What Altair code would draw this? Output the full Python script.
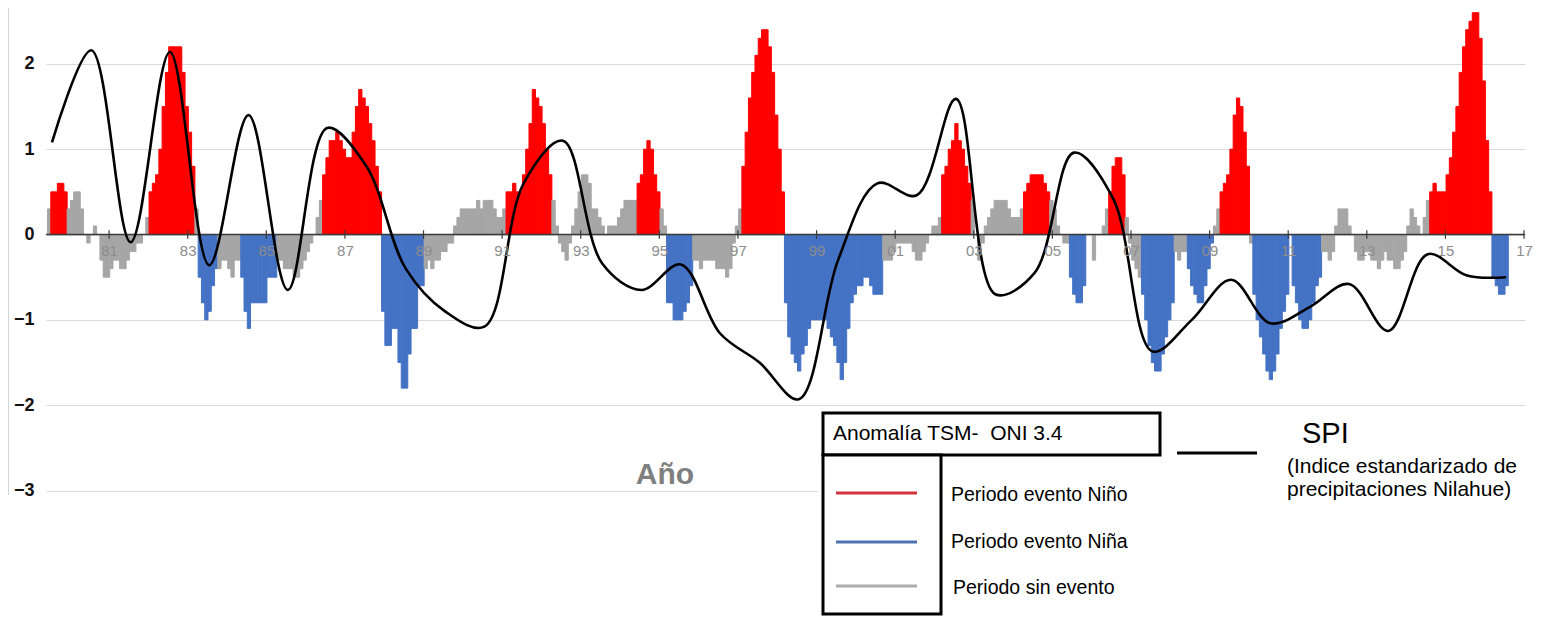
import altair as alt
import pandas as pd

# ---------------- data ----------------
# ONI 3.4 anomaly, one bar per running month (first bar = ASO 1979),
# grouped in consecutive segments of the same event type.
# N = Niño, A = Niña, S = sin evento
seg_kind = ["S", "N", "S", "N", "S", "A", "S", "A", "S", "N", "A", "S", "N", "S",
            "N", "S", "A", "S", "N", "A", "S", "N", "S", "N", "S", "A", "S", "N",
            "S", "A", "S", "A", "S", "N", "S", "A", "S", "A", "S", "N", "A"]
seg_vals = [
    [0.3],
    [0.5, 0.5, 0.6, 0.6, 0.5],
    [0.3, 0.4, 0.5, 0.5, 0.3, 0.0, -0.1, 0.0, 0.1, 0.0, -0.3, -0.5, -0.5, -0.4, -0.3,
     -0.3, -0.4, -0.4, -0.3, -0.2, -0.2, -0.1, -0.1, 0.0, 0.2],
    [0.5, 0.6, 0.7, 1.0, 1.5, 1.9, 2.2, 2.2, 2.2, 2.2, 1.9, 1.5, 1.2, 0.8],
    [0.3],
    [-0.5, -0.8, -1.0, -0.9, -0.6, -0.4],
    [-0.4, -0.3, -0.3, -0.4, -0.5, -0.3, -0.3],
    [-0.5, -0.9, -1.1, -0.8, -0.8, -0.8, -0.8, -0.8, -0.5, -0.5, -0.5],
    [-0.3, -0.3, -0.4, -0.4, -0.4, -0.5, -0.5, -0.4, -0.3, -0.2, -0.1, 0.0, 0.2, 0.4],
    [0.7, 0.9, 1.1, 1.1, 1.2, 1.1, 1.0, 0.9, 0.9, 1.2, 1.5, 1.7, 1.6, 1.5, 1.3, 1.1, 0.8, 0.5],
    [-0.9, -1.3, -1.3, -1.1, -1.1, -1.5, -1.8, -1.8, -1.4, -1.1, -1.1, -0.6, -0.6],
    [-0.4, -0.3, -0.4, -0.3, -0.3, -0.2, -0.2, -0.1, -0.1, 0.1, 0.2, 0.3, 0.3, 0.3, 0.3,
     0.3, 0.4, 0.3, 0.4, 0.4, 0.4, 0.3, 0.2, 0.2, 0.3],
    [0.5, 0.5, 0.6, 0.5, 0.5, 0.7, 1.0, 1.3, 1.7, 1.6, 1.5, 1.3, 1.0, 0.7],
    [0.4, 0.1, -0.1, -0.2, -0.3, -0.1, 0.1, 0.3, 0.5, 0.7, 0.7, 0.6, 0.3, 0.3, 0.2, 0.1,
     0.0, 0.1, 0.1, 0.1, 0.2, 0.3, 0.4, 0.4, 0.4, 0.4],
    [0.6, 0.7, 1.0, 1.1, 1.0, 0.7, 0.5],
    [0.3, 0.1],
    [-0.8, -0.8, -1.0, -1.0, -1.0, -0.9, -0.8, -0.6],
    [-0.3, -0.3, -0.4, -0.3, -0.3, -0.3, -0.3, -0.4, -0.4, -0.4, -0.5, -0.4, -0.1, 0.1, 0.3],
    [0.8, 1.2, 1.6, 1.9, 2.1, 2.3, 2.4, 2.4, 2.2, 1.9, 1.4, 1.0, 0.5],
    [-0.8, -1.2, -1.4, -1.5, -1.6, -1.4, -1.3, -1.1, -1.0, -1.0, -1.0, -1.0, -1.0, -1.1, -1.2,
     -1.3, -1.5, -1.7, -1.5, -1.1, -0.8, -0.7, -0.6, -0.6, -0.5, -0.5, -0.6, -0.7, -0.7, -0.7],
    [-0.3, -0.3, -0.3, -0.2, -0.1, -0.1, -0.1, -0.1, -0.1, -0.2, -0.3, -0.3, -0.2, -0.1,
     0.0, 0.1, 0.1, 0.2],
    [0.7, 0.8, 1.0, 1.1, 1.3, 1.1, 1.0, 0.8, 0.6],
    [0.4, 0.0, -0.3, -0.1, 0.1, 0.2, 0.3, 0.4, 0.4, 0.4, 0.4, 0.3, 0.2, 0.2, 0.2, 0.3],
    [0.5, 0.6, 0.7, 0.7, 0.7, 0.7, 0.6, 0.5],
    [0.4, 0.3, 0.1, 0.0, -0.1, -0.1],
    [-0.5, -0.7, -0.8, -0.8, -0.6],
    [0.0, 0.0, -0.3, 0.0, 0.0, 0.1, 0.3],
    [0.5, 0.8, 0.9, 0.9, 0.7],
    [0.2, -0.1, -0.3, -0.4, -0.5],
    [-0.7, -1.0, -1.3, -1.5, -1.6, -1.6, -1.4, -1.2, -1.0, -0.8],
    [-0.2, -0.3, -0.2, -0.2],
    [-0.4, -0.6, -0.7, -0.8, -0.8, -0.6, -0.4, -0.1],
    [0.1, 0.3],
    [0.5, 0.6, 0.7, 1.0, 1.4, 1.6, 1.5, 1.2, 0.8],
    [-0.1],
    [-0.7, -1.0, -1.2, -1.4, -1.6, -1.7, -1.6, -1.4, -1.1, -0.9, -0.7],
    [0.0],
    [-0.6, -0.8, -1.0, -1.1, -1.1, -1.0, -0.8, -0.6, -0.5],
    [-0.2, -0.2, -0.3, -0.2, 0.1, 0.3, 0.3, 0.3, 0.1, 0.0, -0.2, -0.3, -0.3, -0.2, -0.2,
     -0.3, -0.3, -0.4, -0.3, -0.2, -0.3, -0.3, -0.4, -0.4, -0.3, -0.2, 0.1, 0.3, 0.2, 0.1,
     0.0, 0.2, 0.4],
    [0.5, 0.6, 0.5, 0.5, 0.5, 0.7, 0.9, 1.2, 1.5, 1.9, 2.2, 2.4, 2.5, 2.6, 2.6, 2.3, 1.8, 1.1, 0.5],
    [-0.5, -0.6, -0.7, -0.7, -0.6],
]

# SPI (annual, Nilahue) - one value per year, first one at running month 1.37
spi_vals = [1.08, 2.16, -0.09, 2.14, -0.36, 1.40, -0.65, 1.25, 0.80, -0.40,
            -0.90, -1.08, 0.60, 1.10, -0.34, -0.65, -0.35, -1.16, -1.50, -1.93,
            -0.30, 0.60, 0.46, 1.59, -0.70, -0.45, 0.96, 0.42, -1.37, -1.00,
            -0.53, -1.04, -0.85, -0.58, -1.13, -0.23, -0.48, -0.50]
spi_first_month = 1.37
spi_step = 12

# x-axis tick labels (every 24 running months)
tick_labels = ["81", "83", "85", "87", "89", "91", "93", "95", "97", "99",
               "01", "03", "05", "07", "09", "11", "13", "15", "17"]
first_tick = 18.8
tick_step = 24
y_ticks = [-3, -2, -1, 0, 1, 2]

kind_codes = ["N", "A", "S"]
kind_colors = ["#ff0000", "#4472c4", "#a6a6a6"]

# ---------------- tables ----------------
rows = []
i = 0
for kind, vals in zip(seg_kind, seg_vals):
    for v in vals:
        rows.append({"m0": i, "m1": i + 1, "oni": v, "base": 0.0, "kind": kind})
        i += 1
bars_df = pd.DataFrame(rows)

spi_df = pd.DataFrame({
    "m0": [spi_first_month + spi_step * k for k in range(len(spi_vals))],
    "oni": spi_vals,
})

tick_pos = [first_tick + tick_step * k for k in range(len(tick_labels))]
ticks_df = pd.DataFrame({"m0": tick_pos, "oni": [-0.05] * len(tick_pos), "hi": [0.05] * len(tick_pos)})
label_expr = "[" + ",".join("'%s'" % t for t in tick_labels) + "][round((datum.value - %s) / %s)]" % (first_tick, tick_step)

x_scale = alt.Scale(domain=[-0.46, 451.1], nice=False, zero=False)
y_scale = alt.Scale(domain=[-3, 2.655], nice=False, zero=False)
color_scale = alt.Scale(domain=kind_codes, range=kind_colors)

W, H = 1479, 482.5
FONT = "Liberation Sans"

x_axis = alt.Axis(values=tick_pos, labelExpr=label_expr, grid=False,
                  offset=-256, domain=False, ticks=False,
                  labelColor="#8c8c8c", labelFontSize=15, labelFont=FONT,
                  labelPadding=9, labelFlush=False, labelOverlap=False, zindex=1)
y_axis = alt.Axis(values=y_ticks, grid=True, gridColor="#d9d9d9", gridWidth=1,
                  domain=False, ticks=False, tickSize=0, labelFont=FONT,
                  labelFontWeight="bold", labelFontSize=18, labelColor="#111111",
                  labelPadding=12, zindex=0)

X = alt.X("m0:Q", scale=x_scale, title=None, axis=x_axis)
Y = alt.Y("oni:Q", scale=y_scale, title=None, axis=y_axis)

bars = alt.Chart(bars_df).mark_rect(strokeWidth=1).encode(
    x=X, x2="m1:Q", y=Y, y2="base:Q",
    color=alt.Color("kind:N", scale=color_scale, legend=None),
    stroke=alt.Stroke("kind:N", scale=color_scale, legend=None),
)

zero_line = alt.Chart(pd.DataFrame({"oni": [0.0]})).mark_rule(color="#3a3a3a", strokeWidth=1.4).encode(
    y=Y
)

tick_marks = alt.Chart(ticks_df).mark_rule(color="#3a3a3a", strokeWidth=1.2).encode(
    x=X, y=Y, y2="hi:Q",
)

spi_line = alt.Chart(spi_df).mark_line(color="black", strokeWidth=2.6, interpolate="catmull-rom").encode(
    x=X, y=Y,
)

one = pd.DataFrame({"k": [0]})

left_border = alt.Chart(one).mark_rule(color="#d4d4d4", strokeWidth=1).encode(
    x=alt.value(-37.5), y=alt.value(0), y2=alt.value(487)
)

cover = alt.Chart(one).mark_rect(fill="white").encode(
    x=alt.value(772), x2=alt.value(1487), y=alt.value(401), y2=alt.value(612)
)
box_title = alt.Chart(one).mark_rect(fill="white", stroke="black", strokeWidth=3).encode(
    x=alt.value(777), x2=alt.value(1114), y=alt.value(405), y2=alt.value(447)
)
box_low = alt.Chart(one).mark_rect(fill="white", stroke="black", strokeWidth=3).encode(
    x=alt.value(777), x2=alt.value(895), y=alt.value(447), y2=alt.value(606)
)

leg_line_colors = ["#d0343a", "#4f74b0", "#ababab"]
leg_line_y = [485, 534, 578]
leg_lines = alt.layer(*[
    alt.Chart(one).mark_rule(color=c, strokeWidth=3).encode(
        x=alt.value(790), x2=alt.value(871), y=alt.value(yy))
    for c, yy in zip(leg_line_colors, leg_line_y)
])

legend_text = [
    ("Anomalía TSM-\u00a0 ONI 3.4", 787, 426, 21, "normal", "black", "left"),
    ("Periodo evento Niño", 905, 487, 19.5, "normal", "black", "left"),
    ("Periodo evento Niña", 905, 534, 19.5, "normal", "black", "left"),
    ("Periodo sin evento", 907, 580, 19.5, "normal", "black", "left"),
    ("SPI", 1256, 426, 29, "normal", "black", "left"),
    ("(Indice estandarizado de", 1241, 459, 21, "normal", "black", "left"),
    ("precipitaciones Nilahue)", 1241, 482, 21, "normal", "black", "left"),
    ("Año", 619, 467, 30, "bold", "#7f7f7f", "center"),
]
texts = alt.layer(*[
    alt.Chart(pd.DataFrame({"t": [t]})).mark_text(
        align=al, baseline="middle", font=FONT, fontSize=fs, fontWeight=fw, color=col
    ).encode(x=alt.value(xx), y=alt.value(yy), text="t:N")
    for (t, xx, yy, fs, fw, col, al) in legend_text
])

spi_key = alt.Chart(one).mark_rule(color="black", strokeWidth=3).encode(
    x=alt.value(1131), x2=alt.value(1211), y=alt.value(445)
)

chart = alt.layer(
    bars, zero_line, tick_marks, spi_line, left_border,
    cover, box_title, box_low, leg_lines, spi_key, texts
).properties(
    width=W, height=H,
    autosize=alt.AutoSizeParams(type="none"),
    padding={"left": 38, "top": 0, "right": 8, "bottom": 126},
    background="white",
).configure_view(stroke=None)

chart.save("out.html", embed_options={"renderer": "svg", "actions": False})
